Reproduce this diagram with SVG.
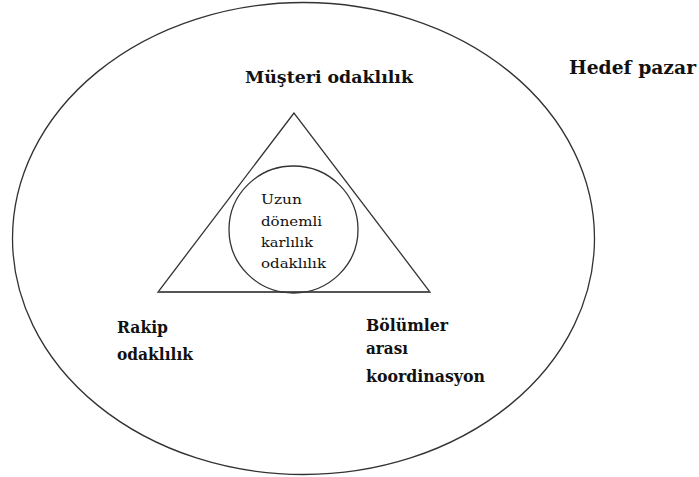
<svg xmlns="http://www.w3.org/2000/svg" width="699" height="477" viewBox="0 0 699 477">
<style>
.shape{fill:none;stroke:#333;stroke-width:1.3}
.b{font-family:'DejaVu Serif',serif;font-weight:bold;fill:#111}
.r{font-family:'DejaVu Serif',serif;font-size:13px;fill:#111}
</style>
<rect width="699" height="477" fill="#fff"/>
<g id="hedef-pazar">
<ellipse class="shape" cx="303.5" cy="238.5" rx="291" ry="236"/>
<text class="b" font-size="19" x="569" y="74" textLength="127" lengthAdjust="spacingAndGlyphs">Hedef pazar</text>
</g>
<g id="ucgen">
<polygon class="shape" points="294,113 158,292 430,292"/>
<line x1="158" y1="292" x2="430" y2="292" stroke="#555" stroke-width="2.2"/>
</g>
<g id="musteri">
<text class="b" font-size="17.5" x="245" y="83" textLength="168" lengthAdjust="spacingAndGlyphs">Müşteri odaklılık</text>
</g>
<g id="rakip">
<text class="b" font-size="16.5" x="117" y="333" textLength="51" lengthAdjust="spacingAndGlyphs">Rakip</text>
<text class="b" font-size="16.5" x="117" y="360" textLength="76" lengthAdjust="spacingAndGlyphs">odaklılık</text>
</g>
<g id="bolumler">
<text class="b" font-size="16.5" x="366" y="331" textLength="82" lengthAdjust="spacingAndGlyphs">Bölümler</text>
<text class="b" font-size="16.5" x="366" y="354" textLength="42" lengthAdjust="spacingAndGlyphs">arası</text>
<text class="b" font-size="16.5" x="366" y="382" textLength="119" lengthAdjust="spacingAndGlyphs">koordinasyon</text>
</g>
<g id="karlilik">
<ellipse class="shape" cx="293.5" cy="229.5" rx="64.5" ry="63.5"/>
<text class="r" x="261" y="204" textLength="41" lengthAdjust="spacingAndGlyphs">Uzun</text>
<text class="r" x="261" y="226" textLength="61" lengthAdjust="spacingAndGlyphs">dönemli</text>
<text class="r" x="261" y="247" textLength="52" lengthAdjust="spacingAndGlyphs">karlılık</text>
<text class="r" x="261" y="268" textLength="65" lengthAdjust="spacingAndGlyphs">odaklılık</text>
</g>
<g id="connectors"/>
</svg>
